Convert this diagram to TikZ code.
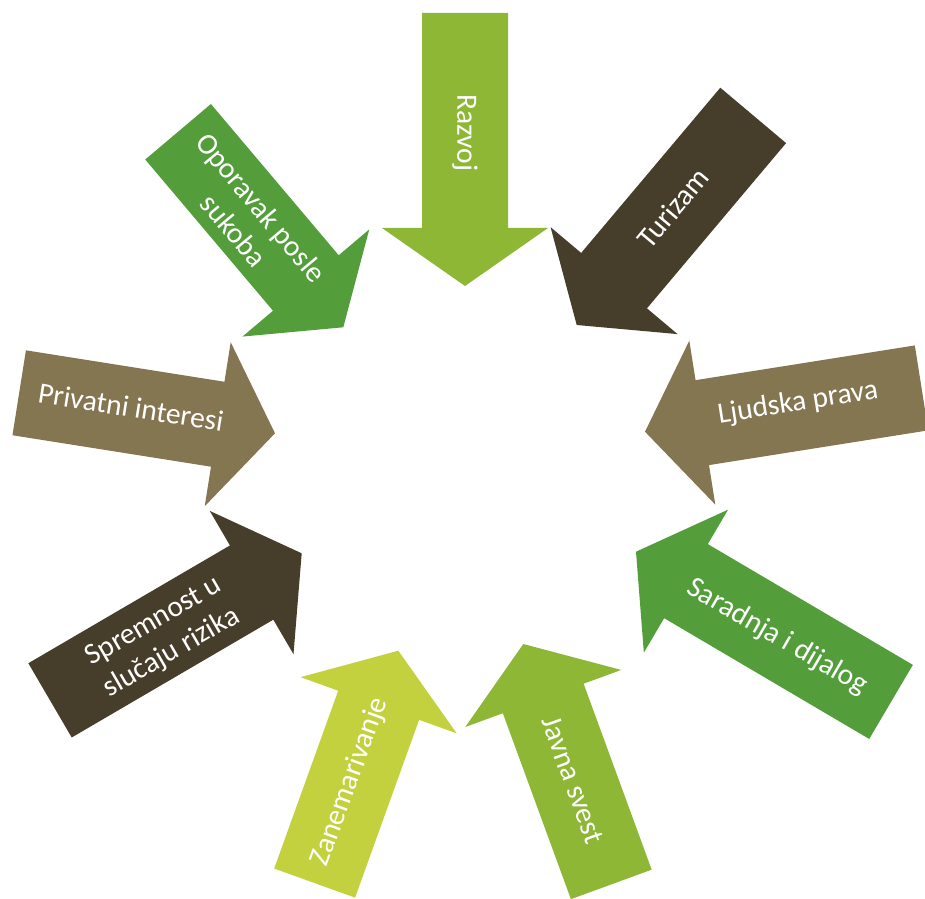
\documentclass[tikz,border=0pt]{standalone}
\usepackage{fontspec}
\setmainfont{Carlito}
\definecolor{lgreen}{HTML}{8DB735}
\definecolor{dbrown}{HTML}{463D2B}
\definecolor{tan}{HTML}{857652}
\definecolor{mgreen}{HTML}{539E3B}
\definecolor{ygreen}{HTML}{C3D13E}
% tip x, tip y, outward angle, length, colour
\newcommand\myarrow[5]{%
  \fill[#5, shift={(#1,#2)}, rotate=#3] (0,0) -- (58,83) -- (58,43) -- (#4,43) -- (#4,-43) -- (58,-43) -- (58,-83) -- cycle;}
\begin{document}
\begin{tikzpicture}[x=1pt,y=1pt,
  lbl/.style={text=white, font=\fontsize{29.5}{36}\selectfont, align=center, inner sep=0pt}]
\useasboundingbox (0,0) rectangle (925,898);
\clip (0,0) rectangle (925,898);
\myarrow{465}{612}{90}{273}{lgreen}
\myarrow{576.7}{573}{49.9}{274}{dbrown}
\myarrow{645}{466.3}{9}{280}{tan}
\myarrow{636}{346.3}{-30.5}{296}{mgreen}
\myarrow{523.3}{254}{-69.9}{256}{lgreen}
\myarrow{398.3}{247.3}{-109.8}{247}{ygreen}
\myarrow{301.7}{344.7}{-149.7}{291.5}{dbrown}
\myarrow{275}{464.7}{171}{259}{tan}
\myarrow{343.3}{570.7}{130.2}{256}{mgreen}
\node[lbl, rotate=-90] (t1) at (465,765) {Razvoj};
\node[lbl, rotate=50] (t2) at (673,690) {Turizam};
\node[lbl, rotate=9] (t3) at (798,495) {Ljudska prava};
\node[lbl, rotate=-30] (t4) at (777,261) {Saradnja i dijalog};
\node[lbl, rotate=-70] (t5) at (573,118) {Javna svest};
\node[lbl, rotate=70] (t6) at (350,116) {Zanemarivanje};
\node[lbl, rotate=30] (t7) at (163,260.5) {Spremnost u\\slučaju rizika};
\node[lbl, rotate=-9] (t8) at (131,491) {Privatni interesi};
\node[lbl, rotate=-50] (t9) at (247.5,679) {Oporavak posle\\sukoba};
\end{tikzpicture}
\end{document}
